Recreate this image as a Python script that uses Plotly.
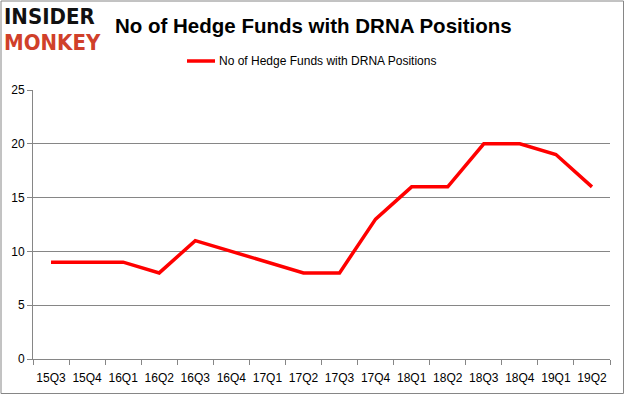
import plotly.graph_objects as go

categories = ["15Q3","15Q4","16Q1","16Q2","16Q3","16Q4","17Q1","17Q2","17Q3","17Q4","18Q1","18Q2","18Q3","18Q4","19Q1","19Q2"]
values = [9, 9, 9, 8, 11, 10, 9, 8, 8, 13, 16, 16, 20, 20, 19, 16]
series_name = "No of Hedge Funds with DRNA Positions"
title_text = "No of Hedge Funds with DRNA Positions"
y_ticks = [0, 5, 10, 15, 20, 25]

W, H = 625, 395
L, R, T, B = 33, 15, 90, 36
pw, ph = W - L - R, H - T - B

def px_x(p):
    return (p - L) / pw

def px_y(p):
    return (H - B - p) / ph

fig = go.Figure()
fig.add_trace(go.Scatter(
    x=list(range(len(categories))), y=values, mode="lines",
    line=dict(color="#ff0000", width=3.5), name=series_name, showlegend=False,
))

font = "Liberation Sans, Arial, sans-serif"
grey = "#868686"
fig.update_layout(
    template="none",
    width=W, height=H,
    margin=dict(l=L, r=R, t=T, b=B, autoexpand=False),
    paper_bgcolor="white", plot_bgcolor="white",
    showlegend=False,
    xaxis=dict(
        automargin=False,
        range=[-0.5, len(categories) - 0.5],
        tickvals=list(range(len(categories))), ticktext=categories,
        ticks="outside", ticklen=8, tickcolor="rgba(0,0,0,0)",
        showgrid=False, zeroline=False,
        showline=True, linecolor=grey, linewidth=1,
        tickfont=dict(family=font, size=12, color="#000000"),
        minor=dict(tick0=-0.5, dtick=1, ticks="outside", ticklen=5, tickcolor=grey, showgrid=False),
        fixedrange=True,
    ),
    yaxis=dict(
        automargin=False,
        range=[0, 25], tickvals=y_ticks,
        showgrid=True, gridcolor=grey, gridwidth=1,
        zeroline=False, showline=True, linecolor=grey, linewidth=1,
        ticks="outside", ticklen=5, tickcolor=grey,
        tickfont=dict(family=font, size=12, color="#000000"),
        fixedrange=True,
    ),
)

# outer border
fig.add_shape(type="rect", xref="paper", yref="paper",
              x0=px_x(1), x1=px_x(623.5), y0=px_y(393.5), y1=px_y(1),
              line=dict(color=grey, width=1), fillcolor="rgba(0,0,0,0)", layer="below")

# title
fig.add_annotation(xref="paper", yref="paper", x=px_x(313), y=px_y(25),
                   text="<b>" + title_text + "</b>", showarrow=False,
                   font=dict(family=font, size=20.5, color="#000000"),
                   xanchor="center", yanchor="middle")

# logo
logo_font = "DejaVu Sans Condensed, DejaVu Sans, sans-serif"
fig.add_annotation(xref="paper", yref="paper", x=px_x(3), y=px_y(17),
                   text="<b>INSIDER</b>", showarrow=False, borderpad=0,
                   font=dict(family=logo_font, size=22, color="#111111"),
                   xanchor="left", yanchor="middle")
fig.add_annotation(xref="paper", yref="paper", x=px_x(3), y=px_y(42),
                   text="<b>MONKEY</b>", showarrow=False, borderpad=0,
                   font=dict(family=logo_font, size=22, color="#d0402a"),
                   xanchor="left", yanchor="middle")

# legend
fig.add_shape(type="line", xref="paper", yref="paper",
              x0=px_x(187), x1=px_x(215), y0=px_y(61), y1=px_y(61),
              line=dict(color="#ff0000", width=3.5))
fig.add_annotation(xref="paper", yref="paper", x=px_x(217), y=px_y(61),
                   text=series_name, showarrow=False,
                   font=dict(family=font, size=12, color="#000000"),
                   xanchor="left", yanchor="middle")

fig.write_html("out.html", config={"displayModeBar": False},
               post_script="document.body.style.margin='0';document.body.style.overflow='hidden';")
